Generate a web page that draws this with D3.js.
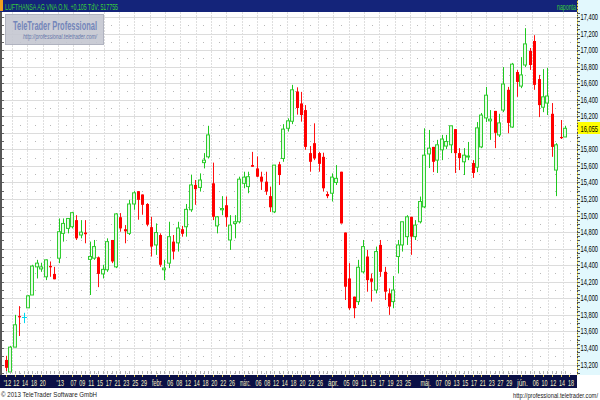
<!DOCTYPE html>
<html><head><meta charset="utf-8">
<script src="https://cdn.jsdelivr.net/npm/d3@7"></script>
<style>body{margin:0;background:#fff}svg{display:block}</style>
</head><body><svg id="c" width="600" height="400"></svg>
<script>
// ---- data ----
const opens  = [13255,13110,13410,13785,13775,13885,14040,14380,14355,14260,14390,14295,14485,14785,14845,14865,14945,14765,14795,14470,
14485,14495,14295,14345,14705,14380,14980,14835,14785,15140,15295,15255,15140,14860,14645,14765,14345,14425,14685,14670,
14835,14865,15070,15370,15340,15640,15710,15390,14875,15070,15125,14705,14905,14925,15390,15350,15610,15570,15470,15410,
15235,15045,15620,15690,16055,16140,16500,16355,16275,15755,15875,15755,15710,15260,15270,15400,15530,14795,14240,14020,
13960,14320,14505,14240,14100,14645,14320,14060,13960,14505,14645,14745,14985,14745,14925,15105,15745,15830,15670,15795,
15840,15855,16045,15755,15650,15710,15635,15585,15830,16180,16145,16265,15975,16275,16520,16070,16735,16565,16820,16990,
17110,16650,16310,16360,16230,15550,15950,15950];
const highs  = [13305,13425,13800,13905,13825,14040,14405,14465,14430,14470,14445,14380,14965,14965,14965,15045,15005,14945,14945,14685,
14705,14505,14405,14725,14705,15030,15030,14885,15190,15295,15295,15255,15150,14985,14905,14785,14465,14925,14765,14925,
14875,15140,15495,15430,15510,15755,16085,15640,14995,15235,15230,15005,15005,15470,15530,15530,15770,15715,15530,15530,
15350,15610,15650,16105,16175,16580,16550,16495,16335,15840,16115,15770,15760,15290,15510,15610,15530,14795,14425,14020,
14465,14705,14585,14300,14625,14705,14380,14120,14270,14705,14925,15005,14985,14945,15230,16055,16035,15830,15915,15975,
15975,16085,16045,15815,15815,15890,15670,16130,16240,16555,16275,16265,16230,16795,16555,16845,16760,16915,17265,17025,
17180,16700,16770,16785,16360,15875,16155,16085];
const lows   = [13095,13095,13410,13545,13700,13885,14040,14240,14320,14220,14260,14230,14425,14685,14785,14845,14705,14725,14665,14040,
14465,14135,14240,14320,14425,14365,14805,14665,14765,15070,14950,15010,14870,14505,14525,14380,14220,14365,14470,14565,
14745,14745,15045,15130,15290,15570,15690,14945,14785,15005,14865,14585,14725,14905,15330,15270,15590,15465,15310,15250,
15045,15030,15370,15650,16015,16105,16220,16135,15795,15530,15670,15530,15290,15210,15170,15370,14905,13980,13860,13760,
13920,14300,14080,13960,14060,14260,13980,13800,13880,14300,14565,14645,14525,14705,14905,15090,15575,15525,15515,15670,
15805,15755,15515,15550,15490,15670,15455,15525,15815,16130,15915,15815,15950,16250,15995,16060,16435,16540,16795,16760,
16520,16190,16250,16215,15710,15235,15925,15950];
const closes = [13160,13410,13680,13775,13775,14030,14390,14425,14380,14465,14375,14230,14805,14905,14965,15035,14725,14800,14775,14505,
14625,14295,14350,14685,14445,15020,14845,14810,15140,15275,15190,15130,14890,14625,14795,14405,14365,14745,14565,14850,
14780,15075,15370,15320,15430,15670,15975,14985,14985,15085,14980,14885,14925,15440,15465,15470,15590,15470,15410,15290,
15100,15610,15490,16045,16145,16520,16300,16215,15830,15650,15690,15625,15330,15235,15465,15450,14905,14140,13880,13880,
14375,14625,14220,14200,14565,14320,14080,13900,14100,14645,14925,14985,14745,14885,15170,15730,15815,15650,15855,15925,
15895,16085,15755,15695,15730,15720,15515,16060,16215,16455,16165,16000,16120,16590,16120,16830,16615,16700,17075,16820,
16580,16335,16435,16445,15830,15855,15940,16055];
const tickIndex  = [0,2,4,6,8,12,15,17,19,21,23,25,27,29,31,34,37,39,41,43,45,47,49,51,54,57,59,61,63,65,67,69,71,74,77,79,81,83,85,87,89,91,95,98,100,102,104,106,108,110,112,114,117,120,122,124,126,128];
const tickLabels = ["'12","12","14","18","20","'13","07","09","11","15","17","21","23","25","29","febr.","06","08","12","14","18","20","22","26","márc.","06","08","12","14","18","20","22","26","ápr.","05","09","11","15","17","19","23","25","máj.","07","09","13","15","17","21","23","27","29","jún.","06","10","12","14","18"];
const yTickValues = [13200,13400,13600,13800,14000,14200,14400,14600,14800,15000,15200,15400,15600,15800,16000,16200,16400,16600,16800,17000,17200,17400];
const lastPrice = 16055;
const titleText = "LUFTHANSA AG VNA O.N. +0,105 TdV: 517755";
const periodText = "naponta";
const brandText = "TeleTrader Professional";
const brandUrl = "http://professional.teletrader.com/";
const copyrightText = "© 2013 TeleTrader Software GmbH";

// ---- layout ----
const W = 600, H = 400;
const plotL = 3, plotR = 577, plotT = 12, plotB = 374;
const svg = d3.select("#c");
const narrow = "'Liberation Sans Narrow','Arial Narrow','Liberation Sans',Arial,sans-serif";
const sans = "'Liberation Sans',Arial,sans-serif";

const x = d3.scaleLinear().domain([0, closes.length - 1]).range([6, 565]);
const y = d3.scaleLinear().domain([13200, 17400]).range([364.5, 17]);
const fmt = d3.format(",");

// background
svg.append("rect").attr("width", W).attr("height", H).attr("fill", "#fff");

// grid
const grid = svg.append("g");
grid.selectAll("line.h").data(yTickValues).join("line")
  .attr("x1", plotL).attr("x2", plotR)
  .attr("y1", d => Math.round(y(d)) + 0.5).attr("y2", d => Math.round(y(d)) + 0.5)
  .attr("stroke", "#dcdcdc").attr("stroke-width", 1);
const vx = d3.range(12, plotR, 15.3);
grid.selectAll("line.v").data(vx).join("line")
  .attr("x1", d => Math.round(d) + 0.5).attr("x2", d => Math.round(d) + 0.5)
  .attr("y1", plotT).attr("y2", plotB)
  .attr("stroke", "#dedede").attr("stroke-width", 1).attr("stroke-dasharray", "2,1");
const midVals = yTickValues.map(v => v - 100).concat([17500]);
const dots = [];
midVals.forEach(v => vx.forEach(px => dots.push([px + 7.65, v])));
grid.selectAll("rect.dot").data(dots).join("rect")
  .attr("x", d => Math.round(d[0])).attr("y", d => Math.round(y(d[1])))
  .attr("width", 1).attr("height", 1).attr("fill", "#b8b8b8");

// candles
svg.append("clipPath").attr("id", "pc").append("rect")
  .attr("x", plotL).attr("y", plotT).attr("width", plotR - plotL).attr("height", plotB - plotT);
const cg = svg.append("g").attr("clip-path", "url(#pc)");
const idx = d3.range(closes.length);
const col = i => closes[i] > opens[i] ? "#1fc81f" : (closes[i] < opens[i] ? "#ff1010" : "#00d8f0");
cg.selectAll("line.w").data(idx).join("line")
  .attr("x1", i => Math.round(x(i)) + 0.5).attr("x2", i => Math.round(x(i)) + 0.5)
  .attr("y1", i => y(highs[i])).attr("y2", i => y(lows[i]))
  .attr("stroke", col).attr("stroke-width", 1);
cg.selectAll("rect.dn").data(idx.filter(i => closes[i] < opens[i])).join("rect")
  .attr("x", i => Math.round(x(i)) - 1).attr("width", 3)
  .attr("y", i => y(opens[i])).attr("height", i => Math.max(1.2, y(closes[i]) - y(opens[i])))
  .attr("fill", "#ff0000");
cg.selectAll("rect.up").data(idx.filter(i => closes[i] > opens[i])).join("rect")
  .attr("x", i => Math.round(x(i)) - 1.5).attr("width", 3)
  .attr("y", i => y(closes[i])).attr("height", i => Math.max(1, y(opens[i]) - y(closes[i])))
  .attr("fill", "#e6fbe6").attr("stroke", "#2fcc2f").attr("stroke-width", 1);
cg.selectAll("line.dj").data(idx.filter(i => closes[i] === opens[i])).join("line")
  .attr("x1", i => Math.round(x(i)) - 2).attr("x2", i => Math.round(x(i)) + 3)
  .attr("y1", i => Math.round(y(closes[i])) + 0.5).attr("y2", i => Math.round(y(closes[i])) + 0.5)
  .attr("stroke", "#00d8f0").attr("stroke-width", 1);

// left edge
svg.append("line").attr("x1", 1).attr("x2", 1).attr("y1", plotT).attr("y2", plotB + 1)
  .attr("stroke", "#555").attr("stroke-width", 2);
const leftTicks = d3.range(13100, 17500, 100);
svg.selectAll("line.lt").data(leftTicks).join("line")
  .attr("x1", 2).attr("x2", 4).attr("y1", d => Math.round(y(d)) + 0.5).attr("y2", d => Math.round(y(d)) + 0.5)
  .attr("stroke", "#666");

// bottom tick strip
svg.selectAll("line.bt").data(idx).join("line")
  .attr("x1", i => Math.round(x(i)) + 0.5).attr("x2", i => Math.round(x(i)) + 0.5)
  .attr("y1", 371).attr("y2", 374).attr("stroke", "#b0b0b0");

// right axis panel
svg.append("rect").attr("x", plotR).attr("y", 0).attr("width", W - plotR).attr("height", 375).attr("fill", "#e2f8fd");
svg.append("line").attr("x1", plotR + 0.5).attr("x2", plotR + 0.5).attr("y1", 0).attr("y2", 375)
  .attr("stroke", "#e6d24a").attr("stroke-width", 1);
svg.append("line").attr("x1", plotR + 0.5).attr("x2", plotR + 0.5).attr("y1", 0).attr("y2", 375)
  .attr("stroke", "#444").attr("stroke-width", 1).attr("stroke-dasharray", "1,2");
const axTicks = d3.range(13100, 17500, 50);
svg.selectAll("line.at").data(axTicks).join("line")
  .attr("x1", plotR).attr("x2", plotR + 3)
  .attr("y1", d => Math.round(y(d)) + 0.5).attr("y2", d => Math.round(y(d)) + 0.5)
  .attr("stroke", "#555");
const lastY = y(lastPrice);
svg.selectAll("text.yl").data(yTickValues.filter(d => Math.abs(y(d) - lastY) > 9)).join("text")
  .attr("x", 598).attr("y", d => y(d) + 3).attr("text-anchor", "end")
  .attr("font-family", narrow).attr("font-size", 8.5).attr("fill", "#000")
  .attr("textLength", 17.5).attr("lengthAdjust", "spacingAndGlyphs")
  .text(d => fmt(d));
svg.append("rect").attr("x", 578).attr("y", Math.round(lastY) - 6).attr("width", 22).attr("height", 12).attr("fill", "#ffff00");
svg.append("text").attr("x", 598).attr("y", lastY + 3.5).attr("text-anchor", "end")
  .attr("font-family", narrow).attr("font-size", 8.5).attr("fill", "#000")
  .attr("textLength", 17.5).attr("lengthAdjust", "spacingAndGlyphs")
  .text(fmt(lastPrice));

// header
svg.append("rect").attr("x", 0).attr("y", 0).attr("width", plotR).attr("height", plotT).attr("fill", "#14247a");
svg.append("rect").attr("x", 0).attr("y", 0).attr("width", 3).attr("height", 11).attr("fill", "#f0a020");
svg.append("text").attr("x", 5).attr("y", 9.5).attr("font-family", narrow).attr("font-size", 9.5)
  .attr("fill", "#38d038").attr("textLength", 113).attr("lengthAdjust", "spacingAndGlyphs").text(titleText);
svg.append("text").attr("x", 576).attr("y", 9.5).attr("text-anchor", "end").attr("font-family", narrow).attr("font-size", 9)
  .attr("fill", "#38d038").attr("textLength", 19).attr("lengthAdjust", "spacingAndGlyphs").text(periodText);

// watermark box
svg.append("rect").attr("x", 5.5).attr("y", 14.5).attr("width", 98).attr("height", 30)
  .attr("fill", "#c4c7d0").attr("fill-opacity", 0.9).attr("stroke", "#b0b3c0");
svg.append("text").attr("x", 13).attr("y", 30).attr("font-family", narrow).attr("font-size", 12.5).attr("font-weight", "bold")
  .attr("fill", "#7486ba").attr("textLength", 84).attr("lengthAdjust", "spacingAndGlyphs").text(brandText);
svg.append("text").attr("x", 23).attr("y", 39).attr("font-family", narrow).attr("font-size", 7).attr("font-style", "italic")
  .attr("fill", "#6676aa").attr("textLength", 74).attr("lengthAdjust", "spacingAndGlyphs").text(brandUrl);

// bottom axis band
svg.append("rect").attr("x", 0).attr("y", 375).attr("width", plotR).attr("height", 13).attr("fill", "#0b1046");
svg.selectAll("line.yt").data(tickIndex).join("line")
  .attr("x1", i => Math.round(x(i)) + 0.5).attr("x2", i => Math.round(x(i)) + 0.5)
  .attr("y1", 375).attr("y2", 377).attr("stroke", "#d8c050");
const labelW = s => s.length <= 2 ? 6 : (s.length === 3 ? 7.5 : 10.5);
svg.selectAll("text.xl").data(tickIndex).join("text")
  .attr("x", (i, k) => Math.max(5, x(i) + 1.5)).attr("y", 386).attr("text-anchor", "middle")
  .attr("font-family", narrow).attr("font-size", 8.5).attr("fill", "#f6f0c4")
  .attr("textLength", (i, k) => labelW(tickLabels[k])).attr("lengthAdjust", "spacingAndGlyphs")
  .text((i, k) => tickLabels[k]);

// footer
svg.append("text").attr("x", 1).attr("y", 397).attr("font-family", sans).attr("font-size", 8)
  .attr("fill", "#222").attr("textLength", 96).attr("lengthAdjust", "spacingAndGlyphs").text(copyrightText);
svg.append("text").attr("x", 598).attr("y", 398).attr("text-anchor", "end").attr("font-family", sans).attr("font-size", 7.5)
  .attr("fill", "#222").attr("textLength", 85).attr("lengthAdjust", "spacingAndGlyphs").text(brandUrl);
</script></body></html>
